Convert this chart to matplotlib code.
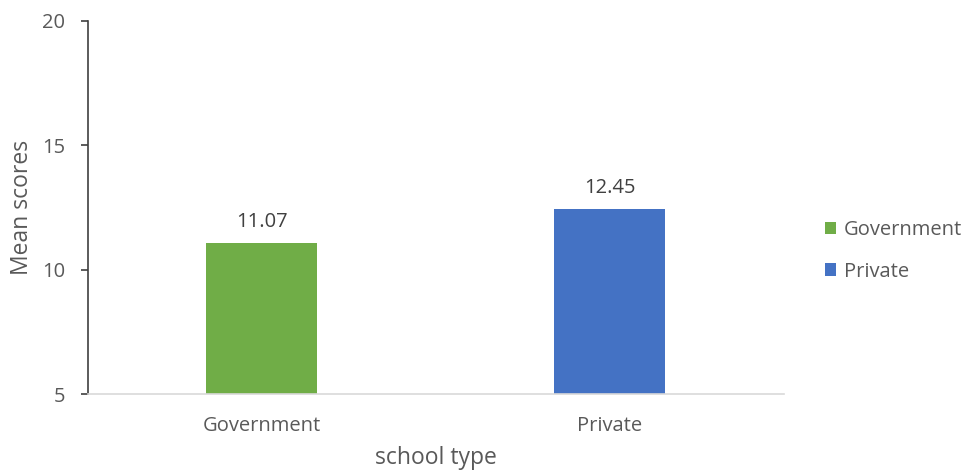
import matplotlib
matplotlib.use("Agg")
import matplotlib.pyplot as plt
from matplotlib.patches import Patch

categories = ["Government", "Private"]
mean_scores = [11.07, 12.45]
bar_colors = ["#70AD47", "#4472C4"]
y_ticks = [5, 10, 15, 20]

plt.rcParams["font.family"] = ["Open Sans", "DejaVu Sans"]
TEXT = "#595959"

fig = plt.figure(figsize=(9.69, 4.72), dpi=100)
ax = fig.add_axes([87.5 / 969, 1 - 394 / 472, 696 / 969, 373 / 472])

x = range(len(categories))
bars = ax.bar(x, mean_scores, width=0.32, color=bar_colors, zorder=2)
for b, v in zip(bars, mean_scores):
    ax.annotate(f"{v:.2f}", (b.get_x() + b.get_width() / 2, v),
                xytext=(0, 8), textcoords="offset points",
                ha="center", va="bottom", fontsize=14.5, color="#404040")

ax.set_xlim(-0.5, len(categories) - 0.5)
ax.set_ylim(5, 20)
ax.set_yticks(y_ticks)
ax.set_xticks(list(x))
ax.set_xticklabels(categories)
ax.tick_params(axis="y", direction="out", length=5, width=1.2, color="#404040",
               labelcolor=TEXT, labelsize=14.5, pad=11)
ax.tick_params(axis="x", length=0, labelcolor=TEXT, labelsize=14.5, pad=16)

for s in ("top", "right"):
    ax.spines[s].set_visible(False)
ax.spines["left"].set_color("#404040")
ax.spines["left"].set_linewidth(1.2)
ax.spines["bottom"].set_color("#D9D9D9")
ax.spines["bottom"].set_linewidth(1.2)

ax.set_ylabel("Mean scores", fontsize=16.5, color=TEXT, labelpad=6)
ax.set_xlabel("school type", fontsize=16.5, color=TEXT, labelpad=7)

handles = [Patch(facecolor=c, label=l) for c, l in zip(bar_colors, categories)]
fig.legend(handles=handles, loc="center left", bbox_to_anchor=(825 / 969, 1 - 251 / 472),
           frameon=False, fontsize=14.5, labelcolor=TEXT, handlelength=0.55,
           handleheight=0.55, handletextpad=0.4, labelspacing=1.05,
           borderpad=0, borderaxespad=0)

fig.savefig("out.png", dpi=100)
